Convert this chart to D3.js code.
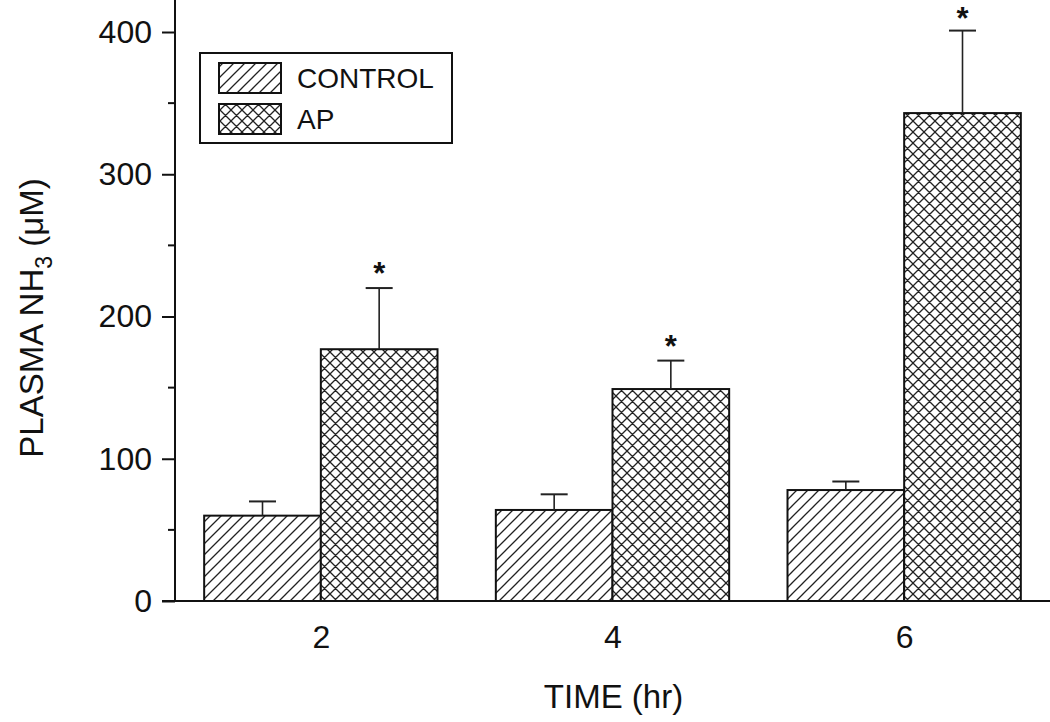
<!DOCTYPE html>
<html>
<head>
<meta charset="utf-8">
<script src="https://cdn.jsdelivr.net/npm/d3@7"></script>
<style>
  html, body { margin: 0; padding: 0; background: #fff; }
  svg text { font-family: "Liberation Sans", Arial, Helvetica, sans-serif; fill: #111; }
</style>
</head>
<body>
<svg id="chart" width="1050" height="722"></svg>
<script>
// ---- data ----
const times      = [2, 4, 6];
const controlAvg = [60, 64, 78];
const controlErr = [70, 75, 84];     // top of error bar
const apAvg      = [177, 149, 343];
const apErr      = [220, 169, 401];
const apStar     = [true, true, true];
const yTicks     = [0, 100, 200, 300, 400];
const seriesNames = ['CONTROL', 'AP'];

const W = 1050, H = 722;
const svg = d3.select('#chart');

const x = d3.scaleLinear().domain([1, 7]).range([175, 1050]);
const y = d3.scaleLinear().domain([0, 422.5]).range([601, 0]);
const barW = x(1.8) - x(1);   // 0.8 hr wide each

// hatch patterns
const defs = svg.append('defs');
const s = 11;
const diag = defs.append('pattern').attr('id', 'diag')
  .attr('patternUnits', 'userSpaceOnUse').attr('width', s).attr('height', s);
diag.append('rect').attr('width', s).attr('height', s).attr('fill', '#fff');
diag.append('path')
  .attr('d', `M0,${s} L${s},0 M${-s/2},${s/2} L${s/2},${-s/2} M${s/2},${s*1.5} L${s*1.5},${s/2}`)
  .attr('stroke', '#222').attr('stroke-width', 1.3);

const cross = defs.append('pattern').attr('id', 'cross')
  .attr('patternUnits', 'userSpaceOnUse').attr('width', s).attr('height', s);
cross.append('rect').attr('width', s).attr('height', s).attr('fill', '#fff');
cross.append('path')
  .attr('d', `M0,${s} L${s},0 M${-s/2},${s/2} L${s/2},${-s/2} M${s/2},${s*1.5} L${s*1.5},${s/2}
              M0,0 L${s},${s} M${-s/2},${s/2} L${s/2},${s*1.5} M${s/2},${-s/2} L${s*1.5},${s/2}`)
  .attr('stroke', '#222').attr('stroke-width', 1.3);

const series = [
  { name: seriesNames[0], avg: controlAvg, err: controlErr, fill: 'url(#diag)', off: -1, star: [false,false,false] },
  { name: seriesNames[1], avg: apAvg, err: apErr, fill: 'url(#cross)', off: 0, star: apStar }
];

// bars
series.forEach(sr => {
  const g = svg.append('g');
  const bx = i => x(times[i]) + sr.off * barW;
  g.selectAll('rect').data(times).join('rect')
    .attr('x', (d, i) => bx(i))
    .attr('y', (d, i) => y(sr.avg[i]))
    .attr('width', barW)
    .attr('height', (d, i) => y(0) - y(sr.avg[i]))
    .attr('fill', sr.fill)
    .attr('stroke', '#111').attr('stroke-width', 2);

  // error bars (upward only)
  g.selectAll('line.ev').data(times).join('line').attr('class', 'ev')
    .attr('x1', (d, i) => bx(i) + barW / 2).attr('x2', (d, i) => bx(i) + barW / 2)
    .attr('y1', (d, i) => y(sr.avg[i])).attr('y2', (d, i) => y(sr.err[i]))
    .attr('stroke', '#222').attr('stroke-width', 1.6);
  g.selectAll('line.cap').data(times).join('line').attr('class', 'cap')
    .attr('x1', (d, i) => bx(i) + barW / 2 - 13.5).attr('x2', (d, i) => bx(i) + barW / 2 + 13.5)
    .attr('y1', (d, i) => y(sr.err[i])).attr('y2', (d, i) => y(sr.err[i]))
    .attr('stroke', '#222').attr('stroke-width', 2);

  // significance stars; kept inside the top edge
  g.selectAll('text.star').data(times.filter((d, i) => sr.star[i])).join('text')
    .attr('class', 'star')
    .attr('x', d => bx(times.indexOf(d)) + barW / 2)
    .attr('y', d => Math.max(y(sr.err[times.indexOf(d)]) - 4, 29))
    .attr('text-anchor', 'middle')
    .style('font-size', '31px')
    .style('font-weight', 'bold')
    .text('*');
});

// y axis
const yAxis = d3.axisLeft(y).tickValues(yTicks).tickSize(13).tickPadding(10).tickFormat(d3.format('d'));
const ya = svg.append('g').attr('transform', `translate(${x(1)},0)`).call(yAxis);
ya.select('.domain').remove();
ya.selectAll('.tick line').attr('stroke', '#111').attr('stroke-width', 2);
ya.selectAll('.tick text').style('font-size', '32px');
// minor ticks
svg.append('g').selectAll('line').data([50, 150, 250, 350]).join('line')
  .attr('x1', x(1) - 7).attr('x2', x(1))
  .attr('y1', d => y(d)).attr('y2', d => y(d))
  .attr('stroke', '#111').attr('stroke-width', 2);
svg.append('line')
  .attr('x1', x(1)).attr('x2', x(1)).attr('y1', y(422.5)).attr('y2', y(0))
  .attr('stroke', '#111').attr('stroke-width', 2);

// x axis
const xAxis = d3.axisBottom(x).tickValues(times).tickSize(0).tickPadding(24).tickFormat(d3.format('d'));
const xa = svg.append('g').attr('transform', `translate(0,${y(0)})`).call(xAxis);
xa.select('.domain').remove();
xa.selectAll('.tick text').style('font-size', '32px');
svg.append('line')
  .attr('x1', x(1) - 13).attr('x2', W).attr('y1', y(0)).attr('y2', y(0))
  .attr('stroke', '#111').attr('stroke-width', 2);

// axis titles
svg.append('text')
  .attr('x', x(4) + 1).attr('y', 708)
  .attr('text-anchor', 'middle')
  .style('font-size', '33px')
  .text('TIME (hr)');

const yl = svg.append('text')
  .attr('transform', 'translate(43,318) rotate(-90)')
  .attr('text-anchor', 'middle')
  .style('font-size', '33px');
yl.append('tspan').text('PLASMA NH');
yl.append('tspan').attr('dy', 9).style('font-size', '23px').text('3');
yl.append('tspan').attr('dy', -9).text(' (\u03BCM)');

// legend
const leg = svg.append('g');
leg.append('rect').attr('x', 200).attr('y', 53).attr('width', 252).attr('height', 90)
  .attr('fill', '#fff').attr('stroke', '#111').attr('stroke-width', 2);
series.forEach((sr, i) => {
  leg.append('rect').attr('x', 219).attr('y', 63 + i * 41).attr('width', 62).attr('height', 30)
    .attr('fill', sr.fill).attr('stroke', '#111').attr('stroke-width', 2);
  leg.append('text').attr('x', 297).attr('y', 88 + i * 41)
    .style('font-size', '28px').text(sr.name);
});
</script>
</body>
</html>
